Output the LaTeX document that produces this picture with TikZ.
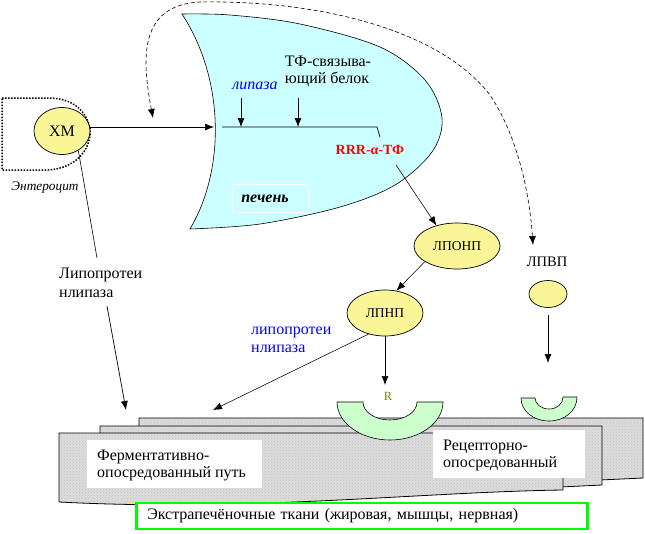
\documentclass[tikz,border=0pt]{standalone}
\usepackage{fontspec}
\setmainfont{Liberation Serif}
\usetikzlibrary{shapes.geometric,arrows.meta,patterns}
\definecolor{livercol}{RGB}{204,255,255}
\definecolor{lipoyel}{RGB}{250,245,150}
\definecolor{recgreen}{RGB}{204,255,204}
\definecolor{slabgray}{RGB}{220,220,220}
\definecolor{boxgreen}{RGB}{0,255,0}
\definecolor{olivegreen}{RGB}{110,140,0}
\begin{document}
\begin{tikzpicture}[x=1pt,y=-1pt,
  arr/.style={line width=0.7pt,-{Latex[length=9pt,width=7pt]}},
  thinarr/.style={line width=0.55pt,-{Latex[length=9pt,width=7pt]}},
  lipo/.style={ellipse,draw,line width=0.7pt,fill=lipoyel,inner sep=0pt},
  lbl/.style={inner sep=0pt,font=\fontsize{16}{17.5}\selectfont,align=left},
  slab/.style={draw,line width=0.8pt,preaction={fill=slabgray},pattern=crosshatch dots,pattern color=gray!45},
  recep/.style={draw,line width=0.6pt,fill=recgreen},
  dashedarr/.style={line width=0.6pt,dash pattern=on 4pt off 2.5pt,{Latex[length=9pt,width=7pt]}-{Latex[length=9pt,width=7pt]}}
]
\useasboundingbox (0,0) rectangle (645,533);

% ---------- liver ----------
\filldraw[fill=livercol,line width=0.6pt] plot[smooth,tension=0.55] coordinates {(182,14) (230,15) (300,24) (380,47) (425,80) (442,118) (432,152) (395,185) (340,207) (260,224) (190,229)} .. controls (225,170) and (225,80) .. (182,14) -- cycle;

\coordinate (livin) at (214,127);
\coordinate (lineL) at (222,127);
\coordinate (lineR) at (377,127);
\coordinate (lineT) at (380,137);
\coordinate (lipA) at (241,98);
\coordinate (lipB) at (241,127);
\coordinate (tfA) at (298,98);
\coordinate (tfB) at (298,127);
\draw[line width=0.7pt] (lineL) -- (lineR) -- (lineT);
\draw[arr] (lipA) -- (lipB);
\draw[arr] (tfA) -- (tfB);

\node[inner sep=0pt,font=\fontsize{16}{18}\selectfont\itshape,text=blue] (lipz) at (255,86) {липаза};
\node[lbl] (tfb) at (328,71.5) {ТФ-связыва-\\ющий белок};
\node[inner sep=0pt,font=\fontsize{14}{16}\selectfont\bfseries,text=red] (rrr) at (370,150) {RRR-α-ТФ};
\node[draw=white,line width=0.8pt,minimum width=76pt,minimum height=28pt,inner sep=0pt] (pechbox) at (270,198) {};
\node[inner sep=0pt,font=\fontsize{16}{18}\selectfont\bfseries\itshape] (pech) at (265,199) {печень};

% ---------- enterocyte + XM ----------
\draw[line width=1.5pt,dash pattern=on 1.5pt off 1.5pt] (2,98) -- (48,98) .. controls (72,98) and (86,110) .. (90,128) .. controls (92,145) and (80,168) .. (48,170) -- (2,170) -- cycle;
\node[lipo,minimum width=56pt,minimum height=47pt,font=\fontsize{16}{18}\selectfont] (xm) at (62,131) {ХМ};
\node[inner sep=0pt,font=\fontsize{13.3}{15}\selectfont\itshape] (ent) at (45,188) {Энтероцит};
\draw[arr] (xm.east |- livin) -- (livin);

% ---------- dashed return arrow ----------
\coordinate (dashL) at (153,118);
\coordinate (dashR) at (533,245);
\draw[dashedarr] (dashL) .. controls (142,60) and (138,5) .. (200,2) .. controls (320,0) and (440,30) .. (490,95) .. controls (520,140) and (530,200) .. (dashR);

% ---------- lipoproteins ----------
\node[lipo,minimum width=86pt,minimum height=46pt,font=\fontsize{13.5}{15}\selectfont] (lponp) at (457,246) {ЛПОНП};
\node[lipo,minimum width=76pt,minimum height=46pt,font=\fontsize{13.5}{15}\selectfont] (lpnp) at (385,313) {ЛПНП};
\node[inner sep=0pt,font=\fontsize{14.5}{16}\selectfont] (lpvplab) at (547,262) {ЛПВП};
\node[lipo,minimum width=38pt,minimum height=27pt] (lpvp) at (548,294) {};

\coordinate (rrrA) at (396,165);
\draw[thinarr] (rrrA) -- (lponp.135);
\draw[thinarr] (lponp.206) -- (lpnp.63);

% ---------- tissue slabs ----------
\draw[slab] (139,418) -- (643,418) -- (643,478) -- (600,480) -- (139,482) -- cycle;
\draw[slab] (100,426) -- (602,426) -- (602,485) -- (560,487) -- (100,490) -- cycle;
\draw[slab] (59,433) -- (563,433) -- (563,490) .. controls (420,492) and (250,512) .. (59,502) -- cycle;

\node[fill=white,minimum width=175pt,minimum height=48pt,inner sep=0pt] (ferbox) at (174.5,464) {};
\node[lbl,anchor=west] (fer) at (97,465.5) {Ферментативно-\\опосредованный путь};
\node[fill=white,minimum width=152pt,minimum height=48pt,inner sep=0pt] (recbox) at (509,454) {};
\node[lbl,anchor=west] (rec) at (443,455.5) {Рецепторно-\\опосредованный};

\node[draw=boxgreen,line width=2.5pt,fill=white,minimum height=26pt,inner xsep=11pt,inner ysep=0pt,anchor=west,align=left,text width=429pt,font=\fontsize{16}{18}\selectfont] (extra) at (135,516) {Экстрапечёночные ткани (жировая, мышцы, нервная)};

% ---------- receptors ----------
\draw[recep] (337,402) .. controls (337,423) and (361,440) .. (390,440) .. controls (419,440) and (443,423) .. (443,402) -- (417,402) .. controls (417,412) and (405,420) .. (390,420) .. controls (375,420) and (363,412) .. (363,402) -- cycle;
\draw[recep] (521,398) .. controls (521,411) and (533.5,421) .. (549,421) .. controls (564.5,421) and (577,411) .. (577,397) -- (563,397) .. controls (563,404) and (556.7,409) .. (549,409) .. controls (541.3,409) and (535,404) .. (535,398) -- cycle;

\node[inner sep=0pt,text=olivegreen,font=\fontsize{12.5}{14}\selectfont] (rlab) at (388,396) {R};

% ---------- lipoprotein lipase paths ----------
\coordinate (lplA) at (97,258);
\coordinate (lplB) at (107,306);
\coordinate (ferA) at (126,410);
\coordinate (ferB) at (213,410);
\coordinate (rtip) at (385,385);
\coordinate (lpvpB) at (548,363);
\node[lbl,anchor=west,font=\fontsize{16}{19}\selectfont] (lpl) at (59,282.5) {Липопротеи\\нлипаза};
\node[lbl,anchor=west,text=blue,font=\fontsize{16}{18}\selectfont] (lpl2) at (251,340) {липопротеи\\нлипаза};
\draw[line width=0.6pt] (xm.-50) -- (lplA);
\draw[arr] (lplB) -- (ferA);
\draw[thinarr] (lpnp.232) -- (ferB);
\draw[arr] (lpnp.south) -- (rtip);
\draw[arr] ([yshift=-7pt]lpvp.south) -- (lpvpB);
\end{tikzpicture}
\end{document}
